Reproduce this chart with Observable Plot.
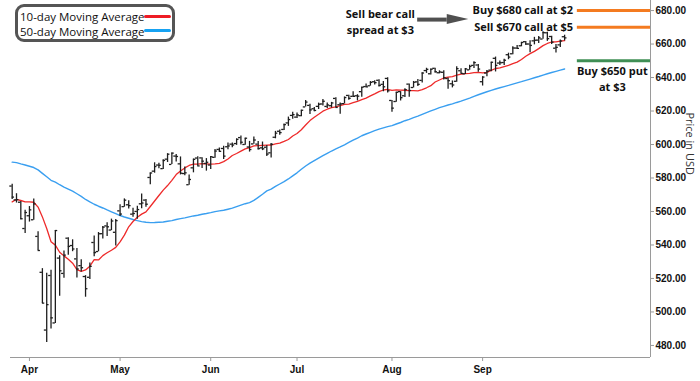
<!DOCTYPE html>
<html><head><meta charset="utf-8">
<script src="https://cdn.jsdelivr.net/npm/d3@7"></script>
<script src="https://cdn.jsdelivr.net/npm/@observablehq/plot@0.6"></script>
<style>
body{margin:0;background:#fff;}
#wrap{position:relative;width:700px;height:381px;overflow:hidden;}
#legend{position:absolute;left:15px;top:4px;width:160px;height:38px;box-sizing:border-box;border:3px solid #555;border-radius:9px;background:#fff;font-family:"Open Sans",sans-serif;font-size:11.5px;color:#111;}
.row{position:absolute;left:2px;height:14px;line-height:14px;white-space:nowrap;}
.sw{position:absolute;left:126px;width:27px;height:3px;border-radius:1.5px;}
</style></head>
<body>
<div id="wrap">
  <div id="chart"></div>
  <div id="legend">
    <div class="row" style="top:3px">10-day Moving Average</div><div class="sw" style="top:8px;background:#ee1c25"></div>
    <div class="row" style="top:18px">50-day Moving Average</div><div class="sw" style="top:22px;background:#16a2f2"></div>
  </div>
</div>
<script>
// Daily bars, 26 Mar - 29 Sep (trading days), rows by month
const open = [
 575.19,566.89,565.53,549.83,
 557.45,555.05,545.11,523.67,489.19,521.77,493.44,532.17,523.01,544.05,539.67,531.68,527.64,521.16,520.71,541.48,536.08,546.74,551.39,548.91,547.57,
 560.37,562.89,564.00,558.41,560.03,564.58,566.81,580.31,584.08,587.73,585.58,591.25,588.10,593.09,588.44,582.66,575.98,586.07,591.91,592.00,588.69,
 587.76,592.34,597.06,597.63,598.66,600.21,600.56,604.13,600.01,598.50,600.35,600.22,598.00,598.38,595.04,604.33,607.91,608.99,612.88,617.38,
 616.36,617.24,622.45,623.36,621.35,622.77,624.20,622.74,623.16,627.52,623.74,624.40,629.30,628.77,629.10,631.55,634.60,635.09,637.48,638.35,635.92,639.46,
 626.30,625.67,631.59,629.10,636.06,634.04,637.40,638.29,644.16,642.24,645.50,642.86,643.12,639.40,636.28,637.76,644.04,642.19,644.57,647.24,647.47,
 637.50,642.67,644.42,651.48,648.63,648.95,653.62,654.18,657.60,658.97,661.39,660.01,661.90,662.33,662.98,666.72,664.49,657.52,659.51,664.36];
const high = [
 576.33,570.61,565.94,560.71,
 562.94,567.42,547.97,525.87,523.17,524.97,548.62,533.50,536.43,544.28,543.09,537.89,531.17,521.70,529.25,545.43,547.43,551.04,553.33,555.45,555.16,
 563.95,567.53,566.39,561.93,563.11,570.43,567.22,583.00,589.08,588.74,590.97,594.50,594.99,594.05,592.58,586.62,581.82,591.31,592.73,592.08,591.60,
 592.79,597.08,597.95,599.00,600.83,600.84,603.41,605.06,603.75,601.85,604.45,601.75,601.48,599.46,600.54,607.85,608.61,612.31,616.39,619.22,
 618.83,620.49,626.28,624.03,622.11,624.72,626.87,624.86,625.16,627.86,624.73,628.40,629.47,631.54,629.73,634.21,636.15,637.58,638.04,638.67,637.68,639.85,
 626.34,631.22,631.60,633.23,636.13,637.65,638.82,642.85,645.54,645.16,645.52,644.00,644.11,639.66,637.97,646.50,645.27,645.35,647.37,649.48,647.84,
 640.49,644.21,649.15,652.21,649.84,650.86,654.55,658.33,659.11,661.04,661.52,661.98,664.00,664.55,667.34,667.04,664.61,659.71,662.37,665.28];
const low = [
 567.19,565.04,555.03,546.87,
 553.68,554.81,536.70,505.06,481.80,489.89,493.06,509.39,520.07,533.86,535.99,520.29,523.91,508.80,519.36,533.00,535.92,543.62,545.06,548.54,539.45,
 557.00,562.56,561.51,556.57,555.39,561.58,562.54,576.02,582.87,585.55,585.10,589.28,588.02,589.60,581.82,581.41,575.60,583.09,586.98,585.60,584.10,
 585.06,591.85,595.49,591.05,596.86,598.00,599.49,599.70,599.52,595.48,600.22,596.76,596.35,592.86,591.89,603.41,605.54,608.37,610.83,615.04,
 615.52,616.61,622.43,617.87,619.52,620.91,623.01,621.53,621.80,622.06,618.05,624.18,626.46,628.34,626.02,628.24,633.99,634.85,635.54,634.34,631.54,630.77,
 619.29,625.28,626.00,628.13,628.20,633.74,634.67,636.78,642.48,641.49,642.72,642.18,638.48,632.95,633.81,637.25,642.34,641.86,644.42,645.34,643.14,
 634.92,640.46,643.51,643.33,647.23,647.22,650.63,653.59,656.90,658.35,659.23,654.73,659.51,660.37,662.91,661.60,659.67,654.64,657.88,661.86];
const close = [
 568.59,567.08,555.66,559.39,
 560.97,564.52,536.70,505.28,504.38,496.48,548.62,524.58,533.94,539.12,537.61,525.66,526.41,513.88,527.25,535.42,546.69,550.64,550.85,554.32,554.54,
 558.47,566.76,563.51,558.80,561.15,565.06,564.34,582.99,586.84,587.59,590.46,594.20,594.85,592.85,582.86,583.09,579.11,591.15,587.21,590.05,589.39,
 592.71,596.09,595.93,593.05,599.14,599.68,603.08,601.36,603.75,597.00,602.68,597.53,597.44,594.28,600.15,606.78,607.12,611.87,614.91,617.85,
 617.65,620.45,625.34,620.68,620.34,624.06,625.82,623.62,624.81,622.14,624.22,628.04,627.58,628.77,628.86,634.21,634.42,637.10,636.94,635.26,634.46,632.08,
 621.72,631.17,627.97,632.78,632.25,637.18,635.92,642.69,644.89,644.95,643.44,643.30,639.81,638.11,635.55,645.31,642.47,645.16,646.63,648.92,645.05,
 640.27,643.74,649.12,647.24,648.83,650.33,652.21,657.63,657.41,660.91,660.00,659.18,662.26,663.70,666.84,663.21,661.10,658.05,661.82,663.68];
const ma10 = [
 565.71,567.28,566.56,565.79,
 565.78,565.52,562.64,556.77,549.80,541.91,539.91,535.66,533.49,531.46,529.12,525.24,524.21,525.07,527.36,531.25,531.06,533.66,535.35,536.87,538.57,
 541.85,545.88,550.85,554.00,556.57,558.41,559.78,562.99,566.25,569.55,572.75,575.49,578.63,582.03,584.20,586.01,587.48,588.30,588.34,588.58,588.48,
 588.33,588.45,588.76,589.78,591.38,593.44,594.63,596.05,597.42,598.18,599.18,599.32,599.47,599.59,599.70,600.41,600.81,601.86,602.98,605.06,
 606.56,608.85,611.64,614.28,616.30,618.03,619.90,621.07,622.06,622.49,623.15,623.91,624.13,624.94,625.79,626.81,627.67,629.02,630.23,631.54,632.56,632.97,
 632.38,632.62,632.53,632.39,632.17,632.18,632.08,632.82,633.87,635.15,637.32,638.54,639.72,640.25,640.58,641.40,642.05,642.30,642.47,642.87,643.03,
 642.73,643.12,644.22,645.39,645.74,646.53,647.23,648.33,649.18,650.77,652.74,654.29,655.60,657.25,659.05,660.34,661.22,661.27,661.71,661.98];
const ma50 = [
 589.45,589.15,588.41,587.76,
 587.03,586.26,584.86,582.77,580.70,578.64,577.53,575.98,574.56,573.31,572.10,570.58,569.02,567.18,565.71,564.32,563.14,562.09,560.91,559.80,558.67,
 557.58,556.70,555.98,555.21,554.55,553.96,553.54,553.32,553.38,553.59,553.74,554.17,554.55,555.20,555.73,556.22,556.77,557.34,557.74,558.32,558.77,
 559.31,559.95,560.39,560.74,561.35,562.00,562.95,563.79,564.65,565.30,566.62,568.46,570.32,572.28,573.31,574.95,576.42,577.87,579.42,581.26,
 583.09,585.22,587.18,588.89,590.36,591.83,593.33,594.71,596.12,597.39,598.54,599.83,601.21,602.56,603.84,605.23,606.26,607.27,608.25,609.15,609.95,610.70,
 611.28,612.24,613.14,614.21,615.04,616.04,616.95,618.02,619.06,620.04,620.99,621.99,622.81,623.58,624.23,625.11,625.88,626.84,627.72,628.75,629.70,
 630.62,631.49,632.34,633.14,633.88,634.59,635.28,636.08,636.82,637.53,638.31,639.09,639.85,640.61,641.48,642.24,643.02,643.70,644.38,645.10];

const monthTicks = [4, 25, 46, 66, 88, 109];   // first trading day of each month (bar index)
const monthLabels = ["Apr", "May", "Jun", "Jul", "Aug", "Sep"];
const priceTicks = [480, 500, 520, 540, 560, 580, 600, 620, 640, 660, 680];

// option-trade annotation
const strikes = [680, 670, 650];
const strikeColors = ["#f47b20", "#f47b20", "#3f8f55"];
const strikeLabels = ["Buy $680 call at $2", "Sell $670 call at $5"];
const putLabel = "Buy $650 put\nat $3";
const spreadLabel = "Sell bear call\nspread at $3";

const xDomain = [-0.39, 147.9];
const yDomain = [472.8, 686];
const labelEnd = 129.95, strikeStart = 130.95, putCenter = 139.05, putMid = 639.7;
const spreadCenter = 85.3, spreadMid = 673.7;
const arrow = {x0: 93.95, base: 100.8, tip: 105.8, y: 674.6, half: 3.0};

const n = Math.min(open.length, high.length, low.length, close.length);
const bars = d3.range(n).map(i => ({i, o: open[i], h: high[i], l: low[i], c: close[i]}));
const head = [
  {x: arrow.base, y1: arrow.y - arrow.half, y2: arrow.y + arrow.half},
  {x: arrow.tip, y1: arrow.y, y2: arrow.y}
];
const ann = {fontFamily: "'Open Sans', sans-serif", fontWeight: 700, fontSize: 11, fill: "#111"};
const barColor = "#1e1e1e";

const chart = Plot.plot({
  width: 700, height: 381,
  marginLeft: 10, marginRight: 50, marginTop: 0, marginBottom: 24,
  x: {domain: xDomain},
  y: {domain: yDomain},
  color: {type: "identity"},
  style: {fontFamily: "'Liberation Sans', Arial, sans-serif", fontSize: "10px", background: "#fff", overflow: "visible"},
  marks: [
    Plot.ruleX([xDomain[1]], {stroke: "#9a9a9a"}),
    Plot.ruleY([yDomain[0]], {stroke: "#9a9a9a"}),
    Plot.axisY(priceTicks, {anchor: "right", tickFormat: d => d.toFixed(2), tickSize: 3, tickPadding: 2,
      fontWeight: "bold", fontSize: 10, stroke: "#9a9a9a", fill: "#111", label: null}),
    Plot.axisX(monthTicks, {anchor: "bottom", tickFormat: d => monthLabels[monthTicks.indexOf(d)], tickSize: 4, tickPadding: 4,
      fontWeight: "bold", fontSize: 10, stroke: "#9a9a9a", fill: "#111", label: null}),
    Plot.line(ma50, {x: (d, i) => i, y: d => d, stroke: "#3a9ff0", strokeWidth: 1.4}),
    Plot.line(ma10, {x: (d, i) => i, y: d => d, stroke: "#ee2a2a", strokeWidth: 1.3}),
    Plot.ruleX(bars, {x: "i", y1: "l", y2: "h", stroke: barColor, strokeWidth: 1.3}),
    Plot.ruleY(bars, {y: "o", x1: d => d.i - 0.55, x2: "i", stroke: barColor, strokeWidth: 1.3}),
    Plot.ruleY(bars, {y: "c", x1: "i", x2: d => d.i + 0.55, stroke: barColor, strokeWidth: 1.3}),
    Plot.ruleY(strikes, {y: d => d, x1: () => strikeStart, x2: () => xDomain[1], stroke: (d, i) => strikeColors[i], strokeWidth: 3}),
    Plot.text(strikeLabels, {x: () => labelEnd, y: (d, i) => strikes[i], textAnchor: "end", ...ann}),
    Plot.text([putLabel], {x: () => putCenter, y: () => putMid, textAnchor: "middle", lineHeight: 1.4, ...ann}),
    Plot.text([spreadLabel], {x: () => spreadCenter, y: () => spreadMid, textAnchor: "middle", lineHeight: 1.4, ...ann}),
    Plot.ruleY([arrow.y], {x1: () => arrow.x0, x2: () => arrow.base, stroke: "#505050", strokeWidth: 4}),
    Plot.areaY(head, {x: "x", y1: "y1", y2: "y2", fill: "#505050"}),
    Plot.text(["Price in USD"], {frameAnchor: "right", dx: 39, dy: -4, rotate: 90,
      fontFamily: "'Open Sans', sans-serif", fontSize: 11, fill: "#333"})
  ]
});
document.getElementById("chart").appendChild(chart);
</script>
</body></html>
